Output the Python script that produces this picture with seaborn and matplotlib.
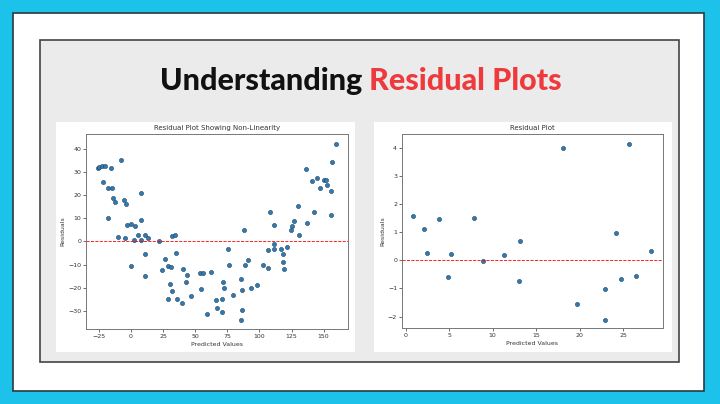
import numpy as np
import pandas as pd
import matplotlib
matplotlib.use("Agg")
import matplotlib.pyplot as plt
import seaborn as sns
from matplotlib.patches import Rectangle

# residuals
nl_pred = [-26, -24.5, -22.4, -20.3, -15.9, -8.1, -21.9, -18, -14.6, -14.1,
           -12.5, -18, -5.5, -4.2, -9.9, -4.8, -3.4, -0.3, 2.8, 8.2,
           8, 2.5, 5.6, 8, 10.6, 13.4, 10.8, 10.8, -0.1, 22.2,
           24.3, 26.4, 28.7, 30.8, 30.5, 32.1, 28.5, 32.1, 34.2, 34.7,
           36, 40.7, 42.5, 44, 40.1, 46.6, 53.6, 56.2, 54.7, 62.5,
           59.4, 66.6, 67.1, 70.5, 71, 72, 72.5, 75.4, 76.5, 79.3,
           85.3, 86.1, 86.1, 85.8, 87.9, 88.7, 91.3, 93.6, 98, 102.7,
           106.6, 106.6, 107.9, 111, 111.2, 111.5, 116.5, 118.5, 118.5, 118.8,
           121.1, 124.5, 125.5, 127.1, 130, 130.5, 135.9, 136.7, 140.6, 142.2,
           144.5, 147.1, 150.5, 152, 153, 155.4, 155.6, 156.2, 159.3]
nl_resid = [31.8, 32.5, 32.8, 32.8, 32.1, 35.4, 25.9, 23.3, 23.1, 18.8,
            17.1, 10.4, 17.8, 16.3, 2.0, 1.3, 7.1, 7.7, 6.5, 21.2,
            9.4, 0.7, 2.9, 0.7, 2.9, 1.4, -5.6, -15.2, -10.8, 0,
            -12.3, -7.4, -10.5, -11, -18.4, -21.5, -25.1, 2.2, 2.6, -4.9,
            -24.9, -12, -17.5, -14.5, -26.9, -23.6, -13.6, -13.9, -20.8, -13.2,
            -31.4, -25.3, -28.9, -25, -30.8, -17.8, -20.1, -3.3, -10.4, -23.1,
            -16.2, -21.1, -29.6, -34, 5.1, -10.4, -8.2, -20.2, -19.1, -10.4,
            -11.3, -3.9, 12.7, -1, 7.1, -3.3, -3.3, -5.6, -8.7, -11.8,
            -2.5, 4.9, 6.8, 9, 15.6, 2.7, 31.4, 8.1, 26.2, 12.7,
            27.6, 23.1, 26.7, 26.7, 24.7, 11.6, 21.7, 34.7, 42.3]

rp_pred = [0.84, 2.1, 2.45, 3.8, 4.83, 5.25, 7.9, 8.85, 11.26, 13.2,
           13.0, 18.1, 19.7, 22.95, 22.95, 24.2, 24.75, 25.7, 26.55, 28.2]
rp_resid = [1.57, 1.10, 0.25, 1.47, -0.59, 0.21, 1.51, -0.02, 0.20, 0.67,
            -0.72, 3.98, -1.56, -1.02, -2.13, 0.98, -0.67, 4.15, -0.56, 0.33]

nl = pd.DataFrame({"Predicted Values": nl_pred, "Residuals": nl_resid})
rp = pd.DataFrame({"Predicted Values": rp_pred, "Residuals": rp_resid})

sns.set_style("white")
plt.rcParams["font.family"] = ["DejaVu Sans"]

fig = plt.figure(figsize=(7.2, 4.04), dpi=100)
fig.patch.set_facecolor("#1dc2ea")

# frames of the slide, kept behind the axes
fig.patches.append(Rectangle((0.018, 0.032), 0.96, 0.936, transform=fig.transFigure,
                             facecolor="white", edgecolor="#2b3a40", lw=1.2, zorder=-3))
fig.patches.append(Rectangle((0.0556, 0.104), 0.8875, 0.797, transform=fig.transFigure,
                             facecolor="#ebebeb", edgecolor="#444444", lw=1.2, zorder=-2))
for left in (0.0778, 0.519):
    fig.patches.append(Rectangle((left, 0.1287), 0.415, 0.569, transform=fig.transFigure,
                                 facecolor="white", edgecolor="none", zorder=-1))

fig.text(0.503, 0.776, "Understanding", ha="right", va="baseline",
         fontsize=22, fontweight="black", family=["Lato", "DejaVu Sans"], color="#111111")
fig.text(0.512, 0.776, "Residual Plots", ha="left", va="baseline",
         fontsize=22, fontweight="black", family=["Lato", "DejaVu Sans"], color="#ee3a3c")

ax1 = fig.add_axes([0.1194, 0.1856, 0.364, 0.483])
ax2 = fig.add_axes([0.5583, 0.188, 0.3625, 0.480])

for ax, df, title in ((ax1, nl, "Residual Plot Showing Non-Linearity"),
                      (ax2, rp, "Residual Plot")):
    sns.scatterplot(data=df, x="Predicted Values", y="Residuals", ax=ax,
                    s=9, color="#2f7bb5", edgecolor="#23445e", linewidth=0.4)
    ax.axhline(0, color="red", linestyle="--", lw=0.6)
    ax.set_title(title, fontsize=5, pad=3, color="#333333")
    ax.set_xlabel("Predicted Values", fontsize=4.5, labelpad=2, color="#333333")
    ax.set_ylabel("Residuals", fontsize=4.5, labelpad=2, color="#333333")
    ax.tick_params(labelsize=4.5, length=2, width=0.5, pad=1.5, colors="#333333",
                   left=True, bottom=True)
    for sp in ax.spines.values():
        sp.set_color("#777777")
        sp.set_linewidth(0.7)

ax1.set_xlim(-35, 169)
ax1.set_ylim(-38, 46.7)
ax1.set_xticks([-25, 0, 25, 50, 75, 100, 125, 150])
ax1.set_yticks([-30, -20, -10, 0, 10, 20, 30, 40])

ax2.set_xlim(-0.42, 29.6)
ax2.set_ylim(-2.41, 4.49)
ax2.set_xticks([0, 5, 10, 15, 20, 25])
ax2.set_yticks([-2, -1, 0, 1, 2, 3, 4])

fig.savefig("out.png", dpi=100, facecolor=fig.get_facecolor())
